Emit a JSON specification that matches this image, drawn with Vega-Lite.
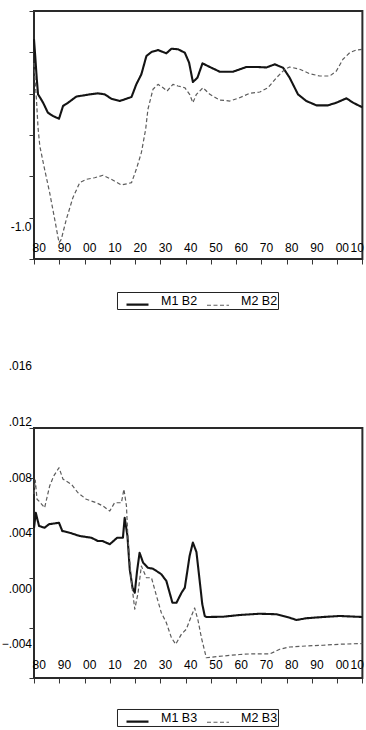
{
  "$schema": "https://vega.github.io/schema/vega-lite/v6.json",
  "background": "white",
  "padding": {"left": 0, "top": 9, "right": 0, "bottom": 0},
  "config": {
    "font": "Liberation Sans",
    "view": {"stroke": "#2a2a2a", "strokeWidth": 2},
    "axis": {
      "grid": false,
      "domain": false,
      "title": null,
      "tickColor": "#333",
      "tickWidth": 1,
      "tickSize": 5,
      "labelFont": "Liberation Sans",
      "labelFontSize": 12,
      "labelColor": "#000"
    },
    "legend": {
      "labelFont": "Liberation Sans",
      "labelFontSize": 12.5,
      "labelColor": "#000"
    }
  },
  "datasets": {
    "b2": [
      {"t": 1880, "s": "M1 B2", "v": 1.158},
      {"t": 1880.5, "s": "M1 B2", "v": 0.95},
      {"t": 1881.1, "s": "M1 B2", "v": 0.677},
      {"t": 1881.6, "s": "M1 B2", "v": 0.492},
      {"t": 1882.5, "s": "M1 B2", "v": 0.448},
      {"t": 1883.6, "s": "M1 B2", "v": 0.391},
      {"t": 1885.5, "s": "M1 B2", "v": 0.27},
      {"t": 1887.5, "s": "M1 B2", "v": 0.23},
      {"t": 1889.9, "s": "M1 B2", "v": 0.197},
      {"t": 1891.5, "s": "M1 B2", "v": 0.351},
      {"t": 1893.5, "s": "M1 B2", "v": 0.391},
      {"t": 1896.8, "s": "M1 B2", "v": 0.466},
      {"t": 1899.4, "s": "M1 B2", "v": 0.478},
      {"t": 1902.1, "s": "M1 B2", "v": 0.492},
      {"t": 1905.3, "s": "M1 B2", "v": 0.504},
      {"t": 1908.0, "s": "M1 B2", "v": 0.492},
      {"t": 1910.6, "s": "M1 B2", "v": 0.439},
      {"t": 1913.9, "s": "M1 B2", "v": 0.411},
      {"t": 1916.6, "s": "M1 B2", "v": 0.439},
      {"t": 1918.6, "s": "M1 B2", "v": 0.46},
      {"t": 1920.5, "s": "M1 B2", "v": 0.613},
      {"t": 1922.5, "s": "M1 B2", "v": 0.734},
      {"t": 1924.5, "s": "M1 B2", "v": 0.956},
      {"t": 1926.5, "s": "M1 B2", "v": 1.004},
      {"t": 1929.1, "s": "M1 B2", "v": 1.028},
      {"t": 1932.4, "s": "M1 B2", "v": 0.988},
      {"t": 1934.4, "s": "M1 B2", "v": 1.044},
      {"t": 1937.0, "s": "M1 B2", "v": 1.037},
      {"t": 1939.7, "s": "M1 B2", "v": 0.996},
      {"t": 1941.4, "s": "M1 B2", "v": 0.875},
      {"t": 1942.9, "s": "M1 B2", "v": 0.641},
      {"t": 1944.7, "s": "M1 B2", "v": 0.693},
      {"t": 1946.7, "s": "M1 B2", "v": 0.867},
      {"t": 1949.6, "s": "M1 B2", "v": 0.823},
      {"t": 1953.5, "s": "M1 B2", "v": 0.766},
      {"t": 1958.8, "s": "M1 B2", "v": 0.766},
      {"t": 1964.1, "s": "M1 B2", "v": 0.823},
      {"t": 1968.0, "s": "M1 B2", "v": 0.823},
      {"t": 1972.0, "s": "M1 B2", "v": 0.817},
      {"t": 1975.3, "s": "M1 B2", "v": 0.855},
      {"t": 1978.6, "s": "M1 B2", "v": 0.814},
      {"t": 1981.2, "s": "M1 B2", "v": 0.693},
      {"t": 1984.5, "s": "M1 B2", "v": 0.492},
      {"t": 1987.8, "s": "M1 B2", "v": 0.411},
      {"t": 1991.8, "s": "M1 B2", "v": 0.359},
      {"t": 1996.4, "s": "M1 B2", "v": 0.359},
      {"t": 1999.7, "s": "M1 B2", "v": 0.391},
      {"t": 2003.7, "s": "M1 B2", "v": 0.444},
      {"t": 2006.3, "s": "M1 B2", "v": 0.391},
      {"t": 2010, "s": "M1 B2", "v": 0.335},
      {"t": 1880, "s": "M2 B2", "v": 0.871},
      {"t": 1881.0, "s": "M2 B2", "v": 0.411},
      {"t": 1881.6, "s": "M2 B2", "v": 0.088},
      {"t": 1882.3, "s": "M2 B2", "v": -0.133},
      {"t": 1884.2, "s": "M2 B2", "v": -0.415},
      {"t": 1886.2, "s": "M2 B2", "v": -0.698},
      {"t": 1888.2, "s": "M2 B2", "v": -1.02},
      {"t": 1889.9, "s": "M2 B2", "v": -1.303},
      {"t": 1890.8, "s": "M2 B2", "v": -1.262},
      {"t": 1892.8, "s": "M2 B2", "v": -1.02},
      {"t": 1895.4, "s": "M2 B2", "v": -0.758},
      {"t": 1898.1, "s": "M2 B2", "v": -0.577},
      {"t": 1900.7, "s": "M2 B2", "v": -0.536},
      {"t": 1904.0, "s": "M2 B2", "v": -0.517},
      {"t": 1907.3, "s": "M2 B2", "v": -0.487},
      {"t": 1910.6, "s": "M2 B2", "v": -0.536},
      {"t": 1914.6, "s": "M2 B2", "v": -0.605},
      {"t": 1918.6, "s": "M2 B2", "v": -0.577},
      {"t": 1920.5, "s": "M2 B2", "v": -0.415},
      {"t": 1922.5, "s": "M2 B2", "v": -0.214},
      {"t": 1924.2, "s": "M2 B2", "v": 0.069},
      {"t": 1925.1, "s": "M2 B2", "v": 0.311},
      {"t": 1927.1, "s": "M2 B2", "v": 0.553},
      {"t": 1929.1, "s": "M2 B2", "v": 0.613},
      {"t": 1931.1, "s": "M2 B2", "v": 0.572},
      {"t": 1932.7, "s": "M2 B2", "v": 0.532},
      {"t": 1935.0, "s": "M2 B2", "v": 0.613},
      {"t": 1937.0, "s": "M2 B2", "v": 0.593},
      {"t": 1939.7, "s": "M2 B2", "v": 0.572},
      {"t": 1941.6, "s": "M2 B2", "v": 0.492},
      {"t": 1942.9, "s": "M2 B2", "v": 0.391},
      {"t": 1944.3, "s": "M2 B2", "v": 0.492},
      {"t": 1946.9, "s": "M2 B2", "v": 0.572},
      {"t": 1949.6, "s": "M2 B2", "v": 0.492},
      {"t": 1953.5, "s": "M2 B2", "v": 0.423},
      {"t": 1957.5, "s": "M2 B2", "v": 0.411},
      {"t": 1961.4, "s": "M2 B2", "v": 0.451},
      {"t": 1965.4, "s": "M2 B2", "v": 0.504},
      {"t": 1969.4, "s": "M2 B2", "v": 0.52},
      {"t": 1972.6, "s": "M2 B2", "v": 0.572},
      {"t": 1976.0, "s": "M2 B2", "v": 0.693},
      {"t": 1979.3, "s": "M2 B2", "v": 0.795},
      {"t": 1981.2, "s": "M2 B2", "v": 0.823},
      {"t": 1985.2, "s": "M2 B2", "v": 0.795},
      {"t": 1989.2, "s": "M2 B2", "v": 0.741},
      {"t": 1993.1, "s": "M2 B2", "v": 0.714},
      {"t": 1997.1, "s": "M2 B2", "v": 0.714},
      {"t": 1999.7, "s": "M2 B2", "v": 0.774},
      {"t": 2002.3, "s": "M2 B2", "v": 0.916},
      {"t": 2005.0, "s": "M2 B2", "v": 0.996},
      {"t": 2007.6, "s": "M2 B2", "v": 1.028},
      {"t": 2010, "s": "M2 B2", "v": 1.037}
    ],
    "b3": [
      {"t": 1880, "s": "M1 B3", "v": 0.0040},
      {"t": 1880.7, "s": "M1 B3", "v": 0.00522},
      {"t": 1882.0, "s": "M1 B3", "v": 0.00416},
      {"t": 1884.2, "s": "M1 B3", "v": 0.00402},
      {"t": 1885.9, "s": "M1 B3", "v": 0.0043},
      {"t": 1889.9, "s": "M1 B3", "v": 0.00442},
      {"t": 1891.2, "s": "M1 B3", "v": 0.00376},
      {"t": 1894.1, "s": "M1 B3", "v": 0.00362},
      {"t": 1898.1, "s": "M1 B3", "v": 0.00336},
      {"t": 1902.7, "s": "M1 B3", "v": 0.00322},
      {"t": 1905.3, "s": "M1 B3", "v": 0.00296},
      {"t": 1907.1, "s": "M1 B3", "v": 0.00296},
      {"t": 1910.0, "s": "M1 B3", "v": 0.0027},
      {"t": 1912.9, "s": "M1 B3", "v": 0.00322},
      {"t": 1915.2, "s": "M1 B3", "v": 0.00322},
      {"t": 1915.9, "s": "M1 B3", "v": 0.00482},
      {"t": 1917.0, "s": "M1 B3", "v": 0.00336},
      {"t": 1917.9, "s": "M1 B3", "v": 0.0007},
      {"t": 1919.0, "s": "M1 B3", "v": -0.00078},
      {"t": 1919.9, "s": "M1 B3", "v": -0.00118},
      {"t": 1920.8, "s": "M1 B3", "v": 0.00056},
      {"t": 1921.8, "s": "M1 B3", "v": 0.00202},
      {"t": 1923.2, "s": "M1 B3", "v": 0.00122},
      {"t": 1925.1, "s": "M1 B3", "v": 0.00082},
      {"t": 1927.1, "s": "M1 B3", "v": 0.00074},
      {"t": 1928.5, "s": "M1 B3", "v": 0.00056},
      {"t": 1930.4, "s": "M1 B3", "v": 0.0003},
      {"t": 1932.4, "s": "M1 B3", "v": -0.00024},
      {"t": 1934.8, "s": "M1 B3", "v": -0.00198},
      {"t": 1936.4, "s": "M1 B3", "v": -0.00198},
      {"t": 1938.4, "s": "M1 B3", "v": -0.00118},
      {"t": 1939.7, "s": "M1 B3", "v": -0.00078},
      {"t": 1941.6, "s": "M1 B3", "v": 0.00176},
      {"t": 1942.9, "s": "M1 B3", "v": 0.00284},
      {"t": 1944.3, "s": "M1 B3", "v": 0.00208},
      {"t": 1945.6, "s": "M1 B3", "v": -0.00024},
      {"t": 1946.6, "s": "M1 B3", "v": -0.00208},
      {"t": 1947.6, "s": "M1 B3", "v": -0.00304},
      {"t": 1948.2, "s": "M1 B3", "v": -0.00312},
      {"t": 1954.8, "s": "M1 B3", "v": -0.0031},
      {"t": 1961.4, "s": "M1 B3", "v": -0.00296},
      {"t": 1969.3, "s": "M1 B3", "v": -0.00286},
      {"t": 1976.0, "s": "M1 B3", "v": -0.0029},
      {"t": 1981.2, "s": "M1 B3", "v": -0.00318},
      {"t": 1983.9, "s": "M1 B3", "v": -0.00336},
      {"t": 1987.8, "s": "M1 B3", "v": -0.00322},
      {"t": 1994.4, "s": "M1 B3", "v": -0.00312},
      {"t": 2001.0, "s": "M1 B3", "v": -0.00304},
      {"t": 2010, "s": "M1 B3", "v": -0.00312},
      {"t": 1880, "s": "M2 B3", "v": 0.00672},
      {"t": 1880.5, "s": "M2 B3", "v": 0.00784},
      {"t": 1881.2, "s": "M2 B3", "v": 0.0063},
      {"t": 1882.3, "s": "M2 B3", "v": 0.00608},
      {"t": 1884.2, "s": "M2 B3", "v": 0.00562},
      {"t": 1886.2, "s": "M2 B3", "v": 0.00736},
      {"t": 1887.8, "s": "M2 B3", "v": 0.00816},
      {"t": 1889.9, "s": "M2 B3", "v": 0.00882},
      {"t": 1891.5, "s": "M2 B3", "v": 0.0079},
      {"t": 1894.8, "s": "M2 B3", "v": 0.0075},
      {"t": 1897.4, "s": "M2 B3", "v": 0.00682},
      {"t": 1900.7, "s": "M2 B3", "v": 0.0063},
      {"t": 1904.7, "s": "M2 B3", "v": 0.00602},
      {"t": 1907.3, "s": "M2 B3", "v": 0.00576},
      {"t": 1910.0, "s": "M2 B3", "v": 0.00536},
      {"t": 1911.9, "s": "M2 B3", "v": 0.00602},
      {"t": 1914.6, "s": "M2 B3", "v": 0.00602},
      {"t": 1915.6, "s": "M2 B3", "v": 0.0071},
      {"t": 1916.6, "s": "M2 B3", "v": 0.00576},
      {"t": 1917.2, "s": "M2 B3", "v": 0.0031},
      {"t": 1918.6, "s": "M2 B3", "v": -0.00038},
      {"t": 1919.9, "s": "M2 B3", "v": -0.0025},
      {"t": 1921.2, "s": "M2 B3", "v": -0.00118},
      {"t": 1922.5, "s": "M2 B3", "v": 0.00096},
      {"t": 1924.5, "s": "M2 B3", "v": 0.00002},
      {"t": 1926.5, "s": "M2 B3", "v": 0.00002},
      {"t": 1928.5, "s": "M2 B3", "v": -0.00144},
      {"t": 1930.4, "s": "M2 B3", "v": -0.00278},
      {"t": 1932.4, "s": "M2 B3", "v": -0.00358},
      {"t": 1934.4, "s": "M2 B3", "v": -0.00478},
      {"t": 1936.1, "s": "M2 B3", "v": -0.0053},
      {"t": 1938.4, "s": "M2 B3", "v": -0.00448},
      {"t": 1940.3, "s": "M2 B3", "v": -0.0041},
      {"t": 1942.3, "s": "M2 B3", "v": -0.00304},
      {"t": 1943.6, "s": "M2 B3", "v": -0.0024},
      {"t": 1944.9, "s": "M2 B3", "v": -0.00336},
      {"t": 1946.3, "s": "M2 B3", "v": -0.0048},
      {"t": 1948.2, "s": "M2 B3", "v": -0.00638},
      {"t": 1954.8, "s": "M2 B3", "v": -0.00624},
      {"t": 1961.4, "s": "M2 B3", "v": -0.00612},
      {"t": 1966.7, "s": "M2 B3", "v": -0.00606},
      {"t": 1973.3, "s": "M2 B3", "v": -0.00608},
      {"t": 1977.3, "s": "M2 B3", "v": -0.0057},
      {"t": 1981.2, "s": "M2 B3", "v": -0.00552},
      {"t": 1987.8, "s": "M2 B3", "v": -0.00544},
      {"t": 1994.4, "s": "M2 B3", "v": -0.00538},
      {"t": 2001.0, "s": "M2 B3", "v": -0.0053},
      {"t": 2010, "s": "M2 B3", "v": -0.00524}
    ]
  },
  "spacing": 169,
  "bounds": "flush",
  "resolve": {
    "scale": {"color": "independent", "strokeDash": "independent", "strokeWidth": "independent"},
    "legend": {"color": "independent", "strokeDash": "independent", "strokeWidth": "independent"}
  },
  "vconcat": [
    {
      "width": 328.4,
      "height": 248,
      "data": {"name": "b2"},
      "mark": {"type": "line", "strokeCap": "butt", "strokeJoin": "round"},
      "encoding": {
        "x": {
          "field": "t",
          "type": "quantitative",
          "scale": {"domain": [1880, 2010], "nice": false, "zero": false},
          "axis": {
            "values": [1880, 1890, 1900, 1910, 1920, 1930, 1940, 1950, 1960, 1970, 1980, 1990, 2000, 2010],
            "labelExpr": "substring(toString(datum.value), 2)",
            "labelAlign": {"condition": {"test": "datum.value == 2010", "value": "right"}, "value": "left"},
            "labelOffset": {"condition": {"test": "datum.value == 2010", "value": 1}, "value": -2},
            "labelBaseline": "middle",
            "labelPadding": -16.5,
            "labelFlush": false,
            "labelOverlap": false
          }
        },
        "y": {
          "field": "v",
          "type": "quantitative",
          "scale": {"domain": [-1.5, 1.5], "nice": false, "zero": false},
          "axis": {
            "values": [-1.5, -1, -0.5, 0, 0.5, 1, 1.5],
            "labelExpr": "datum.value == -1 ? '-1.0' : ''",
            "labelOffset": 9,
            "labelPadding": -2,
            "labelBaseline": "middle"
          }
        },
        "color": {
          "field": "s",
          "type": "nominal",
          "scale": {"domain": ["M1 B2", "M2 B2"], "range": ["#141414", "#5c5c5c"]},
          "legend": {
            "orient": "none",
            "legendX": 83,
            "legendY": 281,
            "direction": "horizontal",
            "title": null,
            "padding": 0,
            "symbolType": "stroke",
            "symbolSize": 484,
            "symbolOffset": 8,
            "labelOffset": 11,
            "columnPadding": -2,
            "labelBaseline": "alphabetic",
            "strokeColor": "#222"
          }
        },
        "strokeDash": {
          "field": "s",
          "type": "nominal",
          "scale": {"domain": ["M1 B2", "M2 B2"], "range": [[1, 0], [4, 2.5]]}
        },
        "strokeWidth": {
          "field": "s",
          "type": "nominal",
          "scale": {"domain": ["M1 B2", "M2 B2"], "range": [2.1, 1.2]}
        }
      }
    },
    {
      "width": 328.4,
      "height": 250,
      "data": {"name": "b3"},
      "resolve": {"scale": {"y": "independent"}, "axis": {"y": "independent"}},
      "encoding": {
        "x": {
          "field": "t",
          "type": "quantitative",
          "scale": {"domain": [1880, 2010], "nice": false, "zero": false},
          "axis": {
            "values": [1880, 1890, 1900, 1910, 1920, 1930, 1940, 1950, 1960, 1970, 1980, 1990, 2000, 2010],
            "labelExpr": "substring(toString(datum.value), 2)",
            "labelAlign": {"condition": {"test": "datum.value == 2010", "value": "right"}, "value": "left"},
            "labelOffset": {"condition": {"test": "datum.value == 2010", "value": 1}, "value": -2},
            "labelBaseline": "middle",
            "labelPadding": -18,
            "labelFlush": false,
            "labelOverlap": false
          }
        }
      },
      "layer": [
        {
          "mark": {"type": "line", "strokeCap": "butt", "strokeJoin": "round"},
          "encoding": {
            "y": {
              "field": "v",
              "type": "quantitative",
              "scale": {"domain": [-0.008, 0.012], "nice": false, "zero": false},
              "axis": {
                "values": [-0.008, -0.004, 0, 0.004, 0.008, 0.012],
                "labels": false
              }
            },
            "color": {
              "field": "s",
              "type": "nominal",
              "scale": {"domain": ["M1 B3", "M2 B3"], "range": ["#141414", "#5c5c5c"]},
              "legend": {
                "orient": "none",
                "legendX": 83,
                "legendY": 281,
                "direction": "horizontal",
                "title": null,
                "padding": 0,
                "symbolType": "stroke",
                "symbolSize": 484,
                "symbolOffset": 8,
                "labelOffset": 11,
                "columnPadding": -2,
                "labelBaseline": "alphabetic",
                "strokeColor": "#222"
              }
            },
            "strokeDash": {
              "field": "s",
              "type": "nominal",
              "scale": {"domain": ["M1 B3", "M2 B3"], "range": [[1, 0], [4, 2.5]]}
            },
            "strokeWidth": {
              "field": "s",
              "type": "nominal",
              "scale": {"domain": ["M1 B3", "M2 B3"], "range": [2.1, 1.2]}
            }
          }
        },
        {
          "mark": {"type": "point", "opacity": 0},
          "encoding": {
            "y": {
              "field": "v",
              "type": "quantitative",
              "scale": {"domain": [-0.004, 0.016], "range": [216, -62], "nice": false, "zero": false},
              "axis": {
                "orient": "left",
                "values": [-0.004, 0, 0.004, 0.008, 0.012, 0.016],
                "ticks": false,
                "tickSize": 0,
                "labelPadding": 2.5,
                "labelBaseline": "middle",
                "labelExpr": "replace(format(datum.value, '.3f'), '0.', '.')"
              }
            }
          }
        }
      ]
    }
  ]
}
